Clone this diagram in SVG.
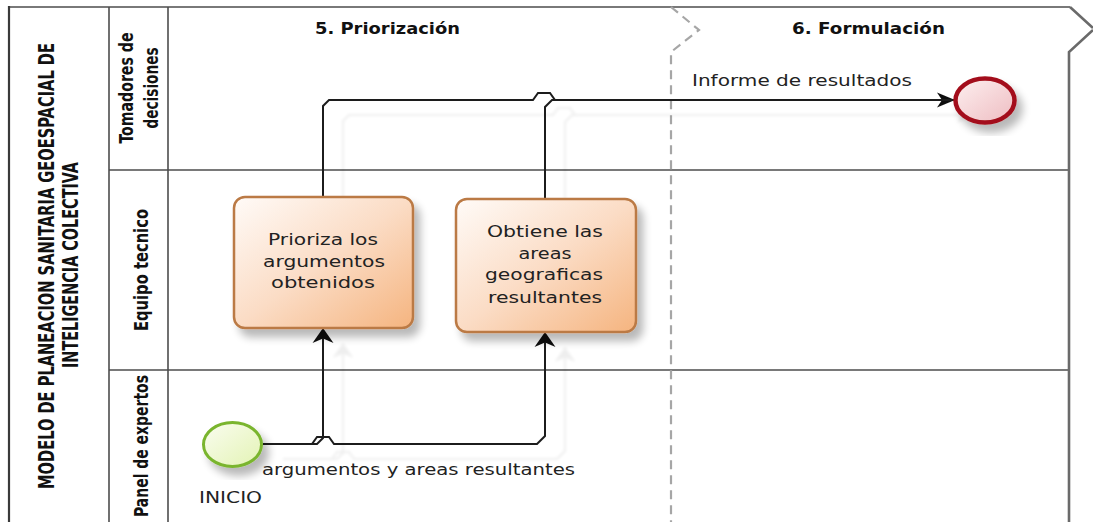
<svg xmlns="http://www.w3.org/2000/svg" width="1093" height="522" viewBox="0 0 1093 522">
  <defs>
    <style>
      .pool-line { fill: none; stroke: #4d4d4d; stroke-width: 1.6; }
      .pool-edge { fill: none; stroke: #3a3a3a; stroke-width: 2.2; }
      .phase-line { fill: none; stroke: #a6a6a6; stroke-width: 2.2; stroke-dasharray: 9 6; }
      .right-edge { fill: none; stroke: #6a6a6a; stroke-width: 2.6; }
      .label-bold { font-family: "DejaVu Sans Condensed", "Liberation Sans Narrow", "Liberation Sans", sans-serif; font-weight: bold; fill: #111; }
      .phase-title { font-family: "DejaVu Sans", "Liberation Sans", sans-serif; font-weight: bold; font-size: 15px; fill: #111; }
      .task-text { font-family: "DejaVu Sans", "Verdana", sans-serif; font-size: 15px; fill: #222; text-anchor: middle; }
      .flow-text { font-family: "DejaVu Sans", "Verdana", sans-serif; font-size: 16px; fill: #222; }
      .task-box { fill: url(#taskFill); stroke: #bb7a45; stroke-width: 2.5; }
      .flow { fill: none; stroke: #1e1e1e; stroke-width: 2; stroke-linejoin: miter; }
    </style>
    <linearGradient id="taskFill" x1="0" y1="0" x2="1" y2="1">
      <stop offset="0" stop-color="#fffbf8"/>
      <stop offset="0.5" stop-color="#fbdcc5"/>
      <stop offset="1" stop-color="#f5b47f"/>
    </linearGradient>
    <linearGradient id="startFill" x1="0" y1="0" x2="1" y2="1">
      <stop offset="0" stop-color="#fafdf0"/>
      <stop offset="1" stop-color="#e3f3b4"/>
    </linearGradient>
    <linearGradient id="endFill" x1="0" y1="0" x2="1" y2="1">
      <stop offset="0" stop-color="#fdf0f0"/>
      <stop offset="1" stop-color="#eebcc1"/>
    </linearGradient>
    <filter id="boxShadow" x="-20%" y="-20%" width="150%" height="150%">
      <feGaussianBlur in="SourceAlpha" stdDeviation="4"/>
      <feOffset dx="6" dy="8" result="o"/>
      <feComponentTransfer in="o" result="s"><feFuncA type="linear" slope="0.28"/></feComponentTransfer>
      <feMerge><feMergeNode in="s"/><feMergeNode in="SourceGraphic"/></feMerge>
    </filter>
    <filter id="lineShadow" x="-10%" y="-20%" width="130%" height="150%">
      <feGaussianBlur in="SourceAlpha" stdDeviation="1.5"/>
      <feOffset dx="20" dy="15" result="o"/>
      <feComponentTransfer in="o" result="s"><feFuncA type="linear" slope="0.07"/></feComponentTransfer>
      <feMerge><feMergeNode in="s"/><feMergeNode in="SourceGraphic"/></feMerge>
    </filter>
    <marker id="arrowV" markerUnits="userSpaceOnUse" orient="auto" refX="0" refY="0" markerWidth="30" markerHeight="30" overflow="visible">
      <path d="M0,0 L-15,-10.5 L-10.5,0 L-15,10.5 Z" fill="#111"/>
    </marker>
    <marker id="arrowH" markerUnits="userSpaceOnUse" orient="auto" refX="0" refY="0" markerWidth="30" markerHeight="30" overflow="visible">
      <path d="M0,0 L-18,-7.5 L-13,0 L-18,7.5 Z" fill="#111"/>
    </marker>
  </defs>

  <rect x="0" y="0" width="1093" height="522" fill="#ffffff"/>

  <!-- pool frame and lanes -->
  <g id="pool">
    <path class="pool-line" d="M9,7 H1070"/>
    <path class="pool-edge" d="M9,6 V522"/>
    <path class="pool-line" d="M109,7 V522"/>
    <path class="pool-line" d="M168,7 V522"/>
    <path class="pool-line" d="M109,170 H1069"/>
    <path class="pool-line" d="M109,370 H1069"/>
    <path class="right-edge" d="M1070,7 L1093,28 M1093,30 L1069,52 V522"/>
    <text class="label-bold" font-size="21" transform="translate(54,266) rotate(-90)" text-anchor="middle" textLength="446" lengthAdjust="spacingAndGlyphs">MODELO DE PLANEACION SANITARIA GEOESPACIAL DE</text>
    <text class="label-bold" font-size="21" transform="translate(78,265) rotate(-90)" text-anchor="middle" textLength="206" lengthAdjust="spacingAndGlyphs">INTELIGENCIA COLECTIVA</text>
  </g>

  <!-- lane headers -->
  <g id="lane-tomadores">
    <text class="label-bold" font-size="20" transform="translate(133,88) rotate(-90)" text-anchor="middle" textLength="111" lengthAdjust="spacingAndGlyphs">Tomadores de</text>
    <text class="label-bold" font-size="20" transform="translate(158,88) rotate(-90)" text-anchor="middle" textLength="81" lengthAdjust="spacingAndGlyphs">decisiones</text>
  </g>
  <g id="lane-equipo">
    <text class="label-bold" font-size="20" transform="translate(148,270) rotate(-90)" text-anchor="middle" textLength="122" lengthAdjust="spacingAndGlyphs">Equipo tecnico</text>
  </g>
  <g id="lane-panel">
    <text class="label-bold" font-size="20" transform="translate(148,446) rotate(-90)" text-anchor="middle" textLength="142" lengthAdjust="spacingAndGlyphs">Panel de expertos</text>
  </g>

  <!-- phases -->
  <g id="phase-priorizacion">
    <text class="phase-title" x="315" y="34" textLength="145" lengthAdjust="spacingAndGlyphs">5. Priorización</text>
  </g>
  <g id="phase-formulacion">
    <path class="phase-line" d="M671,7 L699,30 L671,52 V522"/>
    <text class="phase-title" x="792" y="34" textLength="153" lengthAdjust="spacingAndGlyphs">6. Formulación</text>
  </g>

  <!-- sequence flows -->
  <g id="connectors" filter="url(#lineShadow)">
    <path class="flow" d="M263,444 H317 L323,438 V328" marker-end="url(#arrowV)"/>
    <path class="flow" d="M263,444 H312 L317,437 H329 L334,444 H537 L545,436 V332" marker-end="url(#arrowV)"/>
    <path class="flow" d="M323,198 V106 L329,100 H533 L538,93 H550 L555,100 H955" marker-end="url(#arrowH)"/>
    <path class="flow" d="M545,200 V107 L552,100 H955"/>
  </g>
  <g id="flow-labels">
    <text class="flow-text" x="692" y="86" textLength="220" lengthAdjust="spacingAndGlyphs">Informe de resultados</text>
    <text class="flow-text" font-size="17" x="262" y="475" textLength="313" lengthAdjust="spacingAndGlyphs">argumentos y areas resultantes</text>
  </g>

  <!-- start event -->
  <g id="inicio">
    <ellipse cx="232.5" cy="444.5" rx="29" ry="22" fill="url(#startFill)" stroke="#7ab52f" stroke-width="3" filter="url(#boxShadow)"/>
    <text class="flow-text" x="199" y="503" textLength="63" lengthAdjust="spacingAndGlyphs">INICIO</text>
  </g>

  <!-- tasks -->
  <g id="task-prioriza">
    <rect class="task-box" x="234" y="197" width="179" height="131" rx="11" filter="url(#boxShadow)"/>
    <text class="task-text" x="323" y="245" textLength="110" lengthAdjust="spacingAndGlyphs">Prioriza los</text>
    <text class="task-text" x="324" y="267" textLength="122" lengthAdjust="spacingAndGlyphs">argumentos</text>
    <text class="task-text" x="323" y="288" textLength="104" lengthAdjust="spacingAndGlyphs">obtenidos</text>
  </g>
  <g id="task-obtiene">
    <rect class="task-box" x="456" y="199" width="180" height="133" rx="11" filter="url(#boxShadow)"/>
    <text class="task-text" x="545" y="237" textLength="116" lengthAdjust="spacingAndGlyphs">Obtiene las</text>
    <text class="task-text" x="545" y="259" textLength="53" lengthAdjust="spacingAndGlyphs">areas</text>
    <text class="task-text" x="544" y="280" textLength="118" lengthAdjust="spacingAndGlyphs">geograficas</text>
    <text class="task-text" x="545" y="303" textLength="114" lengthAdjust="spacingAndGlyphs">resultantes</text>
  </g>

  <!-- end event -->
  <g id="fin">
    <ellipse cx="985" cy="100.5" rx="29.5" ry="22" fill="url(#endFill)" stroke="#a3111a" stroke-width="4.5" filter="url(#boxShadow)"/>
  </g>
</svg>
